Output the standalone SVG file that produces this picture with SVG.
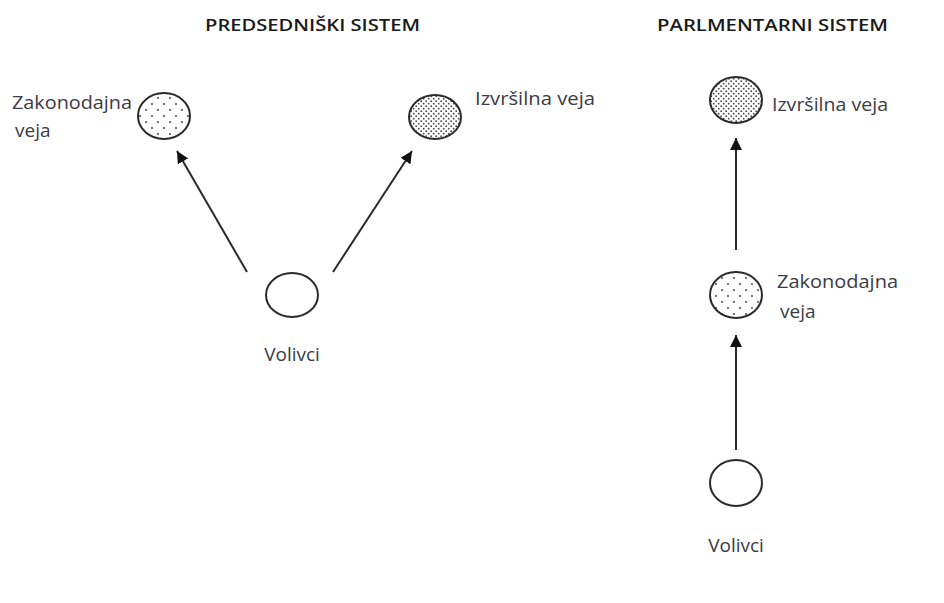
<svg xmlns="http://www.w3.org/2000/svg" width="944" height="603" viewBox="0 0 944 603">
<style>
.title{font-family:"Open Sans","Liberation Sans",sans-serif;font-size:17px;font-weight:600;fill:#1a1a1a}
.lbl{font-family:"Open Sans","Liberation Sans",sans-serif;font-size:19px;fill:#3c3a44}
.node{stroke:#2a2a2a;stroke-width:2}
.edge{stroke:#2a2a2a;stroke-width:2;fill:none}
</style>
<defs>
<pattern id="sparse" width="12" height="12" patternUnits="userSpaceOnUse">
<rect width="12" height="12" fill="#fff"/>
<circle cx="2" cy="2" r="0.9" fill="#333"/>
<circle cx="8" cy="8" r="0.9" fill="#333"/>
</pattern>
<pattern id="dense" width="5" height="5" patternUnits="userSpaceOnUse">
<rect width="5" height="5" fill="#fff"/>
<circle cx="1.2" cy="1.2" r="0.9" fill="#444"/>
<circle cx="3.7" cy="3.7" r="0.9" fill="#444"/>
</pattern>
<marker id="arr" viewBox="0 0 10 10" refX="10" refY="5" markerWidth="6" markerHeight="6" orient="auto" markerUnits="strokeWidth">
<path d="M0,0 L10,5 L0,10 z" fill="#111"/>
</marker>
</defs>

<text class="title" x="205" y="31" textLength="215" lengthAdjust="spacingAndGlyphs">PREDSEDNIŠKI SISTEM</text>
<text class="title" x="657" y="31" textLength="231" lengthAdjust="spacingAndGlyphs">PARLMENTARNI SISTEM</text>

<g id="connectors">
<line class="edge" x1="247" y1="272" x2="177" y2="151" marker-end="url(#arr)"/>
<line class="edge" x1="333" y1="272" x2="412" y2="151" marker-end="url(#arr)"/>
<line class="edge" x1="736" y1="250" x2="736" y2="138" marker-end="url(#arr)"/>
<line class="edge" x1="736" y1="450" x2="736" y2="335" marker-end="url(#arr)"/>
</g>

<g id="ps-zakonodajna">
<ellipse class="node" cx="164" cy="116" rx="26" ry="23" fill="url(#sparse)"/>
<text class="lbl" x="12" y="109" textLength="120" lengthAdjust="spacingAndGlyphs">Zakonodajna</text>
<text class="lbl" x="15" y="137">veja</text>
</g>

<g id="ps-izvrsilna">
<ellipse class="node" cx="435" cy="117" rx="26" ry="22" fill="url(#dense)"/>
<text class="lbl" x="475" y="105" textLength="120" lengthAdjust="spacingAndGlyphs">Izvršilna veja</text>
</g>

<g id="ps-volivci">
<ellipse class="node" cx="292" cy="295" rx="26" ry="22" fill="#fff"/>
<text class="lbl" x="292" y="361" text-anchor="middle">Volivci</text>
</g>

<g id="pa-izvrsilna">
<ellipse class="node" cx="736" cy="100" rx="26" ry="23" fill="url(#dense)"/>
<text class="lbl" x="772" y="111" textLength="116" lengthAdjust="spacingAndGlyphs">Izvršilna veja</text>
</g>

<g id="pa-zakonodajna">
<ellipse class="node" cx="736" cy="295" rx="26" ry="23" fill="url(#sparse)"/>
<text class="lbl" x="777" y="288" textLength="121" lengthAdjust="spacingAndGlyphs">Zakonodajna</text>
<text class="lbl" x="780" y="318">veja</text>
</g>

<g id="pa-volivci">
<ellipse class="node" cx="736" cy="483" rx="26" ry="23" fill="#fff"/>
<text class="lbl" x="736" y="552" text-anchor="middle">Volivci</text>
</g>
</svg>
